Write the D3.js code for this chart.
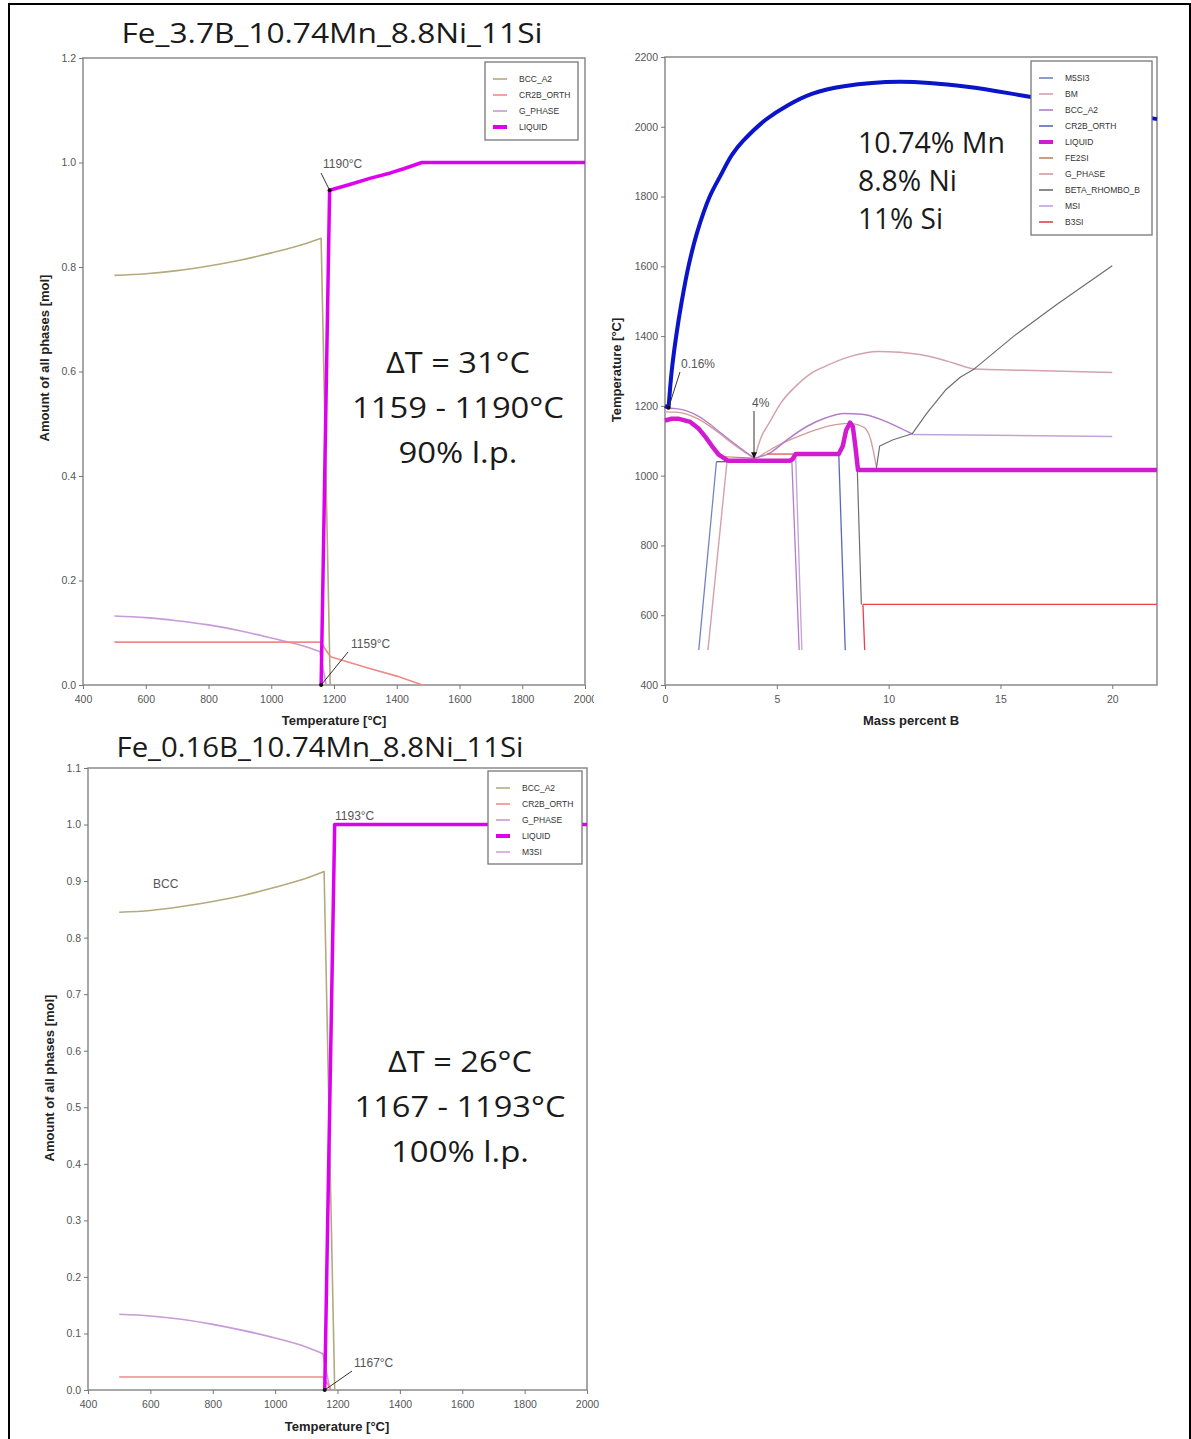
<!DOCTYPE html>
<html lang="en">
<head>
<meta charset="utf-8">
<title>Fe-B-Mn-Ni-Si solidification</title>
<script src="https://cdn.jsdelivr.net/npm/d3@7"></script>
<style>
  html, body { margin: 0; padding: 0; background: white; overflow: hidden; }
  .tick text { font-family: "Liberation Sans", Arial, sans-serif; font-size: 10.5px; fill: #555; }
  .tick line { stroke: #777; }
  .domain { stroke: none; }
  .axis-label { font-family: "Liberation Sans", Arial, sans-serif; font-size: 13px; font-weight: bold; fill: #222; }
  .big { font-family: "Open Sans", sans-serif; fill: #1a1a1a; }
  .legend text { font-family: "Liberation Sans", Arial, sans-serif; font-size: 8.5px; fill: #333; }
  .note { font-family: "Liberation Sans", Arial, sans-serif; font-size: 12px; fill: #555; }
</style>
</head>
<body>
<div id="figure"></div>
<script>

var W = 1191, H = 1439;

// ---------------- data ----------------

// shared temperature axis (charts 1 and 3)
var tempTicks = [400, 600, 800, 1000, 1200, 1400, 1600, 1800, 2000];

// chart 1 : Fe_3.7B_10.74Mn_8.8Ni_11Si   [temperature, mol]
var c1Title = "Fe_3.7B_10.74Mn_8.8Ni_11Si";
var c1AmountTicks = [0, 0.2, 0.4, 0.6, 0.8, 1.0, 1.2];
var c1Bcc = [[500,0.784],[600,0.787],[700,0.793],[800,0.802],[900,0.813],[1000,0.827],[1100,0.843],[1159,0.855],[1188,0]];
var c1Cr2b = [[500,0.082],[1157,0.082],[1189,0.054],[1300,0.034],[1400,0.017],[1482,0]];
var c1GPhase = [[500,0.132],[600,0.129],[700,0.123],[800,0.115],[900,0.104],[1000,0.090],[1100,0.075],[1155,0.064],[1175,0]];
var c1Liquid = [[1159,0],[1186,0.947],[1250,0.958],[1317,0.970],[1380,0.980],[1422,0.988],[1480,1.0],[2000,1.0]];
var c1Legend = ["BCC_A2", "CR2B_ORTH", "G_PHASE", "LIQUID"];
var c1Notes = ["ΔT = 31°C", "1159 - 1190°C", "90% l.p."];

// chart 3 : Fe_0.16B_10.74Mn_8.8Ni_11Si
var c3Title = "Fe_0.16B_10.74Mn_8.8Ni_11Si";
var c3AmountTicks = [0, 0.1, 0.2, 0.3, 0.4, 0.5, 0.6, 0.7, 0.8, 0.9, 1.0, 1.1];
var c3Bcc = [[500,0.845],[600,0.848],[700,0.855],[800,0.864],[900,0.875],[1000,0.889],[1100,0.905],[1157,0.917],[1191,0]];
var c3Cr2b = [[500,0.023],[1155,0.023],[1180,0]];
var c3GPhase = [[500,0.134],[600,0.131],[700,0.125],[800,0.116],[900,0.105],[1000,0.092],[1100,0.076],[1153,0.064],[1176,0]];
var c3Liquid = [[1159,0],[1191,1.0],[2000,1.0]];
var c3Legend = ["BCC_A2", "CR2B_ORTH", "G_PHASE", "LIQUID", "M3SI"];
var c3Notes = ["ΔT = 26°C", "1167 - 1193°C", "100% l.p."];

// chart 2 : isopleth, mass percent B vs temperature
var pdBTicks = [0, 5, 10, 15, 20];
var pdTTicks = [400, 600, 800, 1000, 1200, 1400, 1600, 1800, 2000, 2200];
var pdLegend = ["M5SI3", "BM", "BCC_A2", "CR2B_ORTH", "LIQUID", "FE2SI", "G_PHASE", "BETA_RHOMBO_B", "MSI", "B3SI"];
var pdNotes = ["10.74% Mn", "8.8% Ni", "11% Si"];
var pdLiquidusFoot = [[0,1200],[0.16,1195]];
var pdLiquidus = [[0.16,1195],[0.3,1300],[0.5,1400],[0.75,1500],[1.05,1600],[1.45,1700],[2.0,1800],[2.5,1862],[3.0,1920],[3.5,1960],[4.5,2020],[5.5,2062],[6.6,2095],[8.0,2116],[10.5,2129],[13.5,2115],[16.3,2086],[22,2022]];
var pdLiquid = [[0,1158],[0.3,1163],[0.62,1163],[1.13,1154],[1.5,1135],[1.8,1112],[2.1,1085],[2.4,1060],[2.81,1043],[3.82,1043],[5.58,1043],[5.7,1047],[5.84,1062],[7.77,1062],[7.95,1085],[8.1,1130],[8.28,1152],[8.4,1140],[8.52,1080],[8.63,1016],[22,1016]];
var pdBccLeft = [[0,1194],[0.5,1192],[1.0,1185],[1.5,1170],[2.0,1148],[2.5,1122],[3.0,1097],[3.5,1073],[4.0,1050]];
var pdGLeft = [[0,1183],[0.5,1182],[1.0,1176],[1.5,1162],[2.0,1142],[2.5,1118],[3.0,1093],[3.5,1070],[4.0,1050]];
var pdMsiDome = [[4.0,1050],[4.66,1064],[5.5,1105],[6.34,1141],[7.2,1166],[8.0,1178],[8.8,1176],[9.7,1160],[10.4,1140],[11.05,1120]];
var pdMsiFlat = [[11.05,1118],[20,1112]];
var pdBmDome = [[4.0,1050],[4.3,1110],[4.66,1151],[5.2,1210],[5.84,1256],[6.5,1292],[7.18,1314],[8.3,1342],[9.54,1356],[10.5,1354],[11.39,1347],[12.2,1336],[12.9,1323],[13.83,1306],[16,1302],[20,1296]];
var pdFe2siDome = [[4.15,1052],[5.0,1085],[6.34,1122],[7.3,1142],[8.19,1150],[8.6,1146],[8.95,1136],[9.2,1103],[9.45,1026]];
var pdBeta = [[9.45,1020],[9.6,1085],[10.2,1103],[11.05,1120],[11.72,1180],[12.57,1247],[13.2,1282],[13.83,1306],[15.6,1400],[17.5,1490],[20,1602]];
var pdBetaDrop = [[8.6,1016],[8.78,631]];
var pdB3siDrop = [[8.85,631],[8.93,500]];
var pdB3siFlat = [[8.85,631],[22,631]];
var pdM5si3Edge = [[1.51,500],[2.3,1040]];
var pdCr2bEdge = [[7.77,1062],[8.06,500]];
var pdBmEdge = [[1.92,500],[2.78,1045]];
var pdBccEdge = [[5.67,1045],[6.0,500]];
var pdMsiEdge = [[5.84,1062],[6.12,500]];
var pdB3siShort = [[4.57,1062],[5.75,1062]];
var pdFe2siShort = [[2.4,1055],[4.0,1050]];
var pdGreyShort = [[2.3,1040],[2.8,1040]];

// ---------------- colours ----------------
var colBcc = "#b3ab7d", colCr2b = "#f08a8a", colG = "#c79ad8", colLiq = "#dd00ee", colM3si = "#d4a0dc";
var pdColours = {
	"M5SI3": "#7282c4", "BM": "#d3a2ac", "BCC_A2": "#b27ec8", "CR2B_ORTH": "#5868c0",
	"LIQUID": "#d21ad2", "FE2SI": "#c48462", "G_PHASE": "#d49a9a", "BETA_RHOMBO_B": "#6e6e6e",
	"MSI": "#c2a2da", "B3SI": "#e4404e"
};

var svg = d3.select("#figure").append("svg")
			.attr("width", W)
			.attr("height", H);

svg.append("rect").attr("width", W).attr("height", H).attr("fill", "white");

// outer black frame of the figure
svg.append("rect")
	.attr("x", 9).attr("y", 4)
	.attr("width", 1181).attr("height", 1450)
	.attr("fill", "none")
	.attr("stroke", "#000")
	.attr("stroke-width", 2);

function drawFrame(g, x, y){
	var x0 = x.range()[0], x1 = x.range()[1], y0 = y.range()[0], y1 = y.range()[1];
	g.append("rect")
		.attr("x", x0).attr("y", y1)
		.attr("width", x1 - x0).attr("height", y0 - y1)
		.attr("fill", "none")
		.attr("stroke", "#8a8a8a")
		.attr("stroke-width", 1.5);
}

function drawAxes(g, x, y, xTicks, yTicks, yFormat){
	g.append("g")
		.attr("transform", "translate(0," + y.range()[0] + ")")
		.call(d3.axisBottom(x).tickValues(xTicks).tickSize(4).tickPadding(7).tickFormat(d3.format("d")));
	g.append("g")
		.attr("transform", "translate(" + x.range()[0] + ",0)")
		.call(d3.axisLeft(y).tickValues(yTicks).tickSize(4).tickPadding(3).tickFormat(yFormat));
}

// smooth: "all" = monotone curve, "tail" = monotone except a straight last segment, "cr" = catmull-rom
function drawSeries(g, x, y, data, colour, width, smooth){
	var lin = d3.line()
		.x(function(d){ return x(d[0]); })
		.y(function(d){ return y(d[1]); });
	var mono = d3.line()
		.x(function(d){ return x(d[0]); })
		.y(function(d){ return y(d[1]); })
		.curve(d3.curveMonotoneX);
	var d;
	if (smooth == "all") {
		d = mono(data);
	} else if (smooth == "tail") {
		d = mono(data.slice(0, -1)) + lin(data.slice(-2)).replace("M", "L");
	} else if (smooth == "cr") {
		d = lin.curve(d3.curveCatmullRom.alpha(0.5))(data);
	} else {
		d = lin(data);
	}
	g.append("path")
		.attr("d", d)
		.attr("fill", "none")
		.attr("stroke", colour)
		.attr("stroke-width", width)
		.attr("stroke-linejoin", "round");
}

function drawLegend(g, bx, by, bw, bh, names, colours){
	var lg = g.append("g").attr("class", "legend");
	lg.append("rect")
		.attr("x", bx).attr("y", by)
		.attr("width", bw).attr("height", bh)
		.attr("fill", "white")
		.attr("stroke", "#777")
		.attr("stroke-width", 1.3);
	var rows = lg.selectAll("g.row")
		.data(names)
		.enter()
		.append("g")
		.attr("class", "row")
		.attr("transform", function(d, i){ return "translate(" + bx + "," + (by + 17 + i * 16) + ")"; });
	rows.append("line")
		.attr("x1", 8).attr("x2", 22)
		.attr("stroke", function(d, i){ return colours[i]; })
		.attr("stroke-width", function(d){ return d == "LIQUID" ? 4 : 1.6; });
	rows.append("text")
		.attr("x", 34).attr("y", 3)
		.text(function(d){ return d; });
}

function arrowNote(g, txt, tx, ty, x1, y1, x2, y2, head){
	g.append("text").attr("class", "note").attr("x", tx).attr("y", ty).text(txt);
	g.append("line")
		.attr("x1", x1).attr("y1", y1).attr("x2", x2).attr("y2", y2)
		.attr("stroke", "#333").attr("stroke-width", 1);
	if (head){
		g.append("path")
			.attr("d", "M" + (x2 - 3) + "," + (y2 - 6) + "L" + x2 + "," + y2 + "L" + (x2 + 3) + "," + (y2 - 6) + "Z")
			.attr("fill", "#111");
	} else {
		g.append("circle").attr("cx", x2).attr("cy", y2).attr("r", 2).attr("fill", "#111");
	}
}

function bigLines(g, lines, cx, y0, step, size, lengths, anchor){
	g.selectAll(null)
		.data(lines)
		.enter()
		.append("text")
		.attr("class", "big")
		.attr("x", cx)
		.attr("y", function(d, i){ return y0 + i * step; })
		.attr("text-anchor", anchor)
		.attr("font-size", size)
		.attr("textLength", function(d, i){ return lengths[i]; })
		.attr("lengthAdjust", "spacingAndGlyphs")
		.text(function(d){ return d; });
}

////////////////////////////////////////////////////////////////
// chart 1
////////////////////////////////////////////////////////////////
svg.append("clipPath").attr("id", "clip1")
	.append("rect").attr("x", 0).attr("y", 0).attr("width", 594).attr("height", 736);

var g1 = svg.append("g").attr("clip-path", "url(#clip1)");
var x1 = d3.scaleLinear().domain([400, 2000]).range([83, 585]);
var y1 = d3.scaleLinear().domain([0, 1.2]).range([685, 58]);

g1.append("text").attr("class", "big")
	.attr("x", 332).attr("y", 43)
	.attr("text-anchor", "middle")
	.attr("font-size", 28)
	.attr("textLength", 421).attr("lengthAdjust", "spacingAndGlyphs")
	.text(c1Title);

drawFrame(g1, x1, y1);
drawAxes(g1, x1, y1, tempTicks, c1AmountTicks, d3.format(".1f"));

drawSeries(g1, x1, y1, c1Bcc, colBcc, 1.6, "tail");
drawSeries(g1, x1, y1, c1GPhase, colG, 1.6, "tail");
drawSeries(g1, x1, y1, c1Cr2b, colCr2b, 1.6);
drawSeries(g1, x1, y1, c1Liquid, colLiq, 3.5);

drawLegend(g1, 485, 62, 93, 78, c1Legend, [colBcc, colCr2b, colG, colLiq]);

arrowNote(g1, "1190°C", 323, 168, 321, 173, x1(1186), y1(0.947));
arrowNote(g1, "1159°C", 351, 648, 348, 652, x1(1159), y1(0));

bigLines(g1, c1Notes, 458, 373, 45, 30, [144, 212, 119], "middle");

g1.append("text").attr("class", "axis-label")
	.attr("x", 334).attr("y", 725).attr("text-anchor", "middle")
	.text("Temperature [°C]");
g1.append("text").attr("class", "axis-label")
	.attr("transform", "translate(49,358) rotate(-90)")
	.attr("text-anchor", "middle")
	.text("Amount of all phases [mol]");

////////////////////////////////////////////////////////////////
// chart 2 : phase diagram
////////////////////////////////////////////////////////////////
var g2 = svg.append("g");
var x2 = d3.scaleLinear().domain([0, 22]).range([665, 1157]);
var y2 = d3.scaleLinear().domain([400, 2200]).range([685, 57]);

drawFrame(g2, x2, y2);
drawAxes(g2, x2, y2, pdBTicks, pdTTicks, d3.format("d"));

drawSeries(g2, x2, y2, pdGLeft, pdColours["G_PHASE"], 1.3, "all");
drawSeries(g2, x2, y2, pdBccLeft, pdColours["BCC_A2"], 1.3, "all");
drawSeries(g2, x2, y2, pdBmDome, pdColours["BM"], 1.5, "all");
drawSeries(g2, x2, y2, pdFe2siDome, pdColours["G_PHASE"], 1.3, "all");
drawSeries(g2, x2, y2, pdMsiDome, pdColours["BCC_A2"], 1.5, "all");
drawSeries(g2, x2, y2, pdMsiFlat, pdColours["MSI"], 1.5);
drawSeries(g2, x2, y2, pdBeta, pdColours["BETA_RHOMBO_B"], 1.2);
drawSeries(g2, x2, y2, pdBetaDrop, pdColours["BETA_RHOMBO_B"], 1.2);
drawSeries(g2, x2, y2, pdB3siDrop, pdColours["B3SI"], 1.3);
drawSeries(g2, x2, y2, pdB3siFlat, pdColours["B3SI"], 1.3);
drawSeries(g2, x2, y2, pdM5si3Edge, pdColours["M5SI3"], 1.3);
drawSeries(g2, x2, y2, pdCr2bEdge, pdColours["CR2B_ORTH"], 1.3);
drawSeries(g2, x2, y2, pdBmEdge, pdColours["BM"], 1.4);
drawSeries(g2, x2, y2, pdBccEdge, pdColours["BCC_A2"], 1.3);
drawSeries(g2, x2, y2, pdMsiEdge, pdColours["MSI"], 1.3);
drawSeries(g2, x2, y2, pdB3siShort, pdColours["B3SI"], 1.2);
drawSeries(g2, x2, y2, pdFe2siShort, pdColours["FE2SI"], 1.2);
drawSeries(g2, x2, y2, pdGreyShort, "#555", 1.2);
drawSeries(g2, x2, y2, pdLiquid, pdColours["LIQUID"], 4.5);
drawSeries(g2, x2, y2, pdLiquidusFoot, "#0a14c8", 4);
drawSeries(g2, x2, y2, pdLiquidus, "#0a14c8", 4, "cr");

drawLegend(g2, 1031, 61, 121, 174, pdLegend, pdLegend.map(function(d){ return pdColours[d]; }));

bigLines(g2, pdNotes, 858, 153, 38, 29, [147, 99, 85], "start");

arrowNote(g2, "0.16%", 681, 368, 680, 372, x2(0.16), y2(1195));
arrowNote(g2, "4%", 752, 407, 754, 411, x2(3.98), y2(1050), true);

g2.append("text").attr("class", "axis-label")
	.attr("x", 911).attr("y", 725).attr("text-anchor", "middle")
	.text("Mass percent B");
g2.append("text").attr("class", "axis-label")
	.attr("transform", "translate(621,370) rotate(-90)")
	.attr("text-anchor", "middle")
	.text("Temperature [°C]");

////////////////////////////////////////////////////////////////
// chart 3
////////////////////////////////////////////////////////////////
var g3 = svg.append("g");
var x3 = d3.scaleLinear().domain([400, 2000]).range([88, 587]);
var y3 = d3.scaleLinear().domain([0, 1.1]).range([1390, 768]);

g3.append("text").attr("class", "big")
	.attr("x", 320).attr("y", 757)
	.attr("text-anchor", "middle")
	.attr("font-size", 28)
	.attr("textLength", 407).attr("lengthAdjust", "spacingAndGlyphs")
	.text(c3Title);

drawFrame(g3, x3, y3);
drawAxes(g3, x3, y3, tempTicks, c3AmountTicks, d3.format(".1f"));

drawSeries(g3, x3, y3, c3Bcc, colBcc, 1.6, "tail");
drawSeries(g3, x3, y3, c3GPhase, colG, 1.6, "tail");
drawSeries(g3, x3, y3, c3Cr2b, colCr2b, 1.6);
drawSeries(g3, x3, y3, c3Liquid, colLiq, 3.5);

drawLegend(g3, 488, 771, 94, 93, c3Legend, [colBcc, colCr2b, colG, colLiq, colM3si]);

g3.append("text").attr("class", "note").attr("x", 335).attr("y", 820).text("1193°C");
arrowNote(g3, "1167°C", 354, 1367, 352, 1371, x3(1159), y3(0));
g3.append("text").attr("class", "note")
	.attr("x", 153).attr("y", 888)
	.attr("font-size", 14)
	.text("BCC");

bigLines(g3, c3Notes, 460, 1072, 45, 30, [144, 211, 138], "middle");

g3.append("text").attr("class", "axis-label")
	.attr("x", 337).attr("y", 1431).attr("text-anchor", "middle")
	.text("Temperature [°C]");
g3.append("text").attr("class", "axis-label")
	.attr("transform", "translate(54,1078) rotate(-90)")
	.attr("text-anchor", "middle")
	.text("Amount of all phases [mol]");

</script>
</body>
</html>
